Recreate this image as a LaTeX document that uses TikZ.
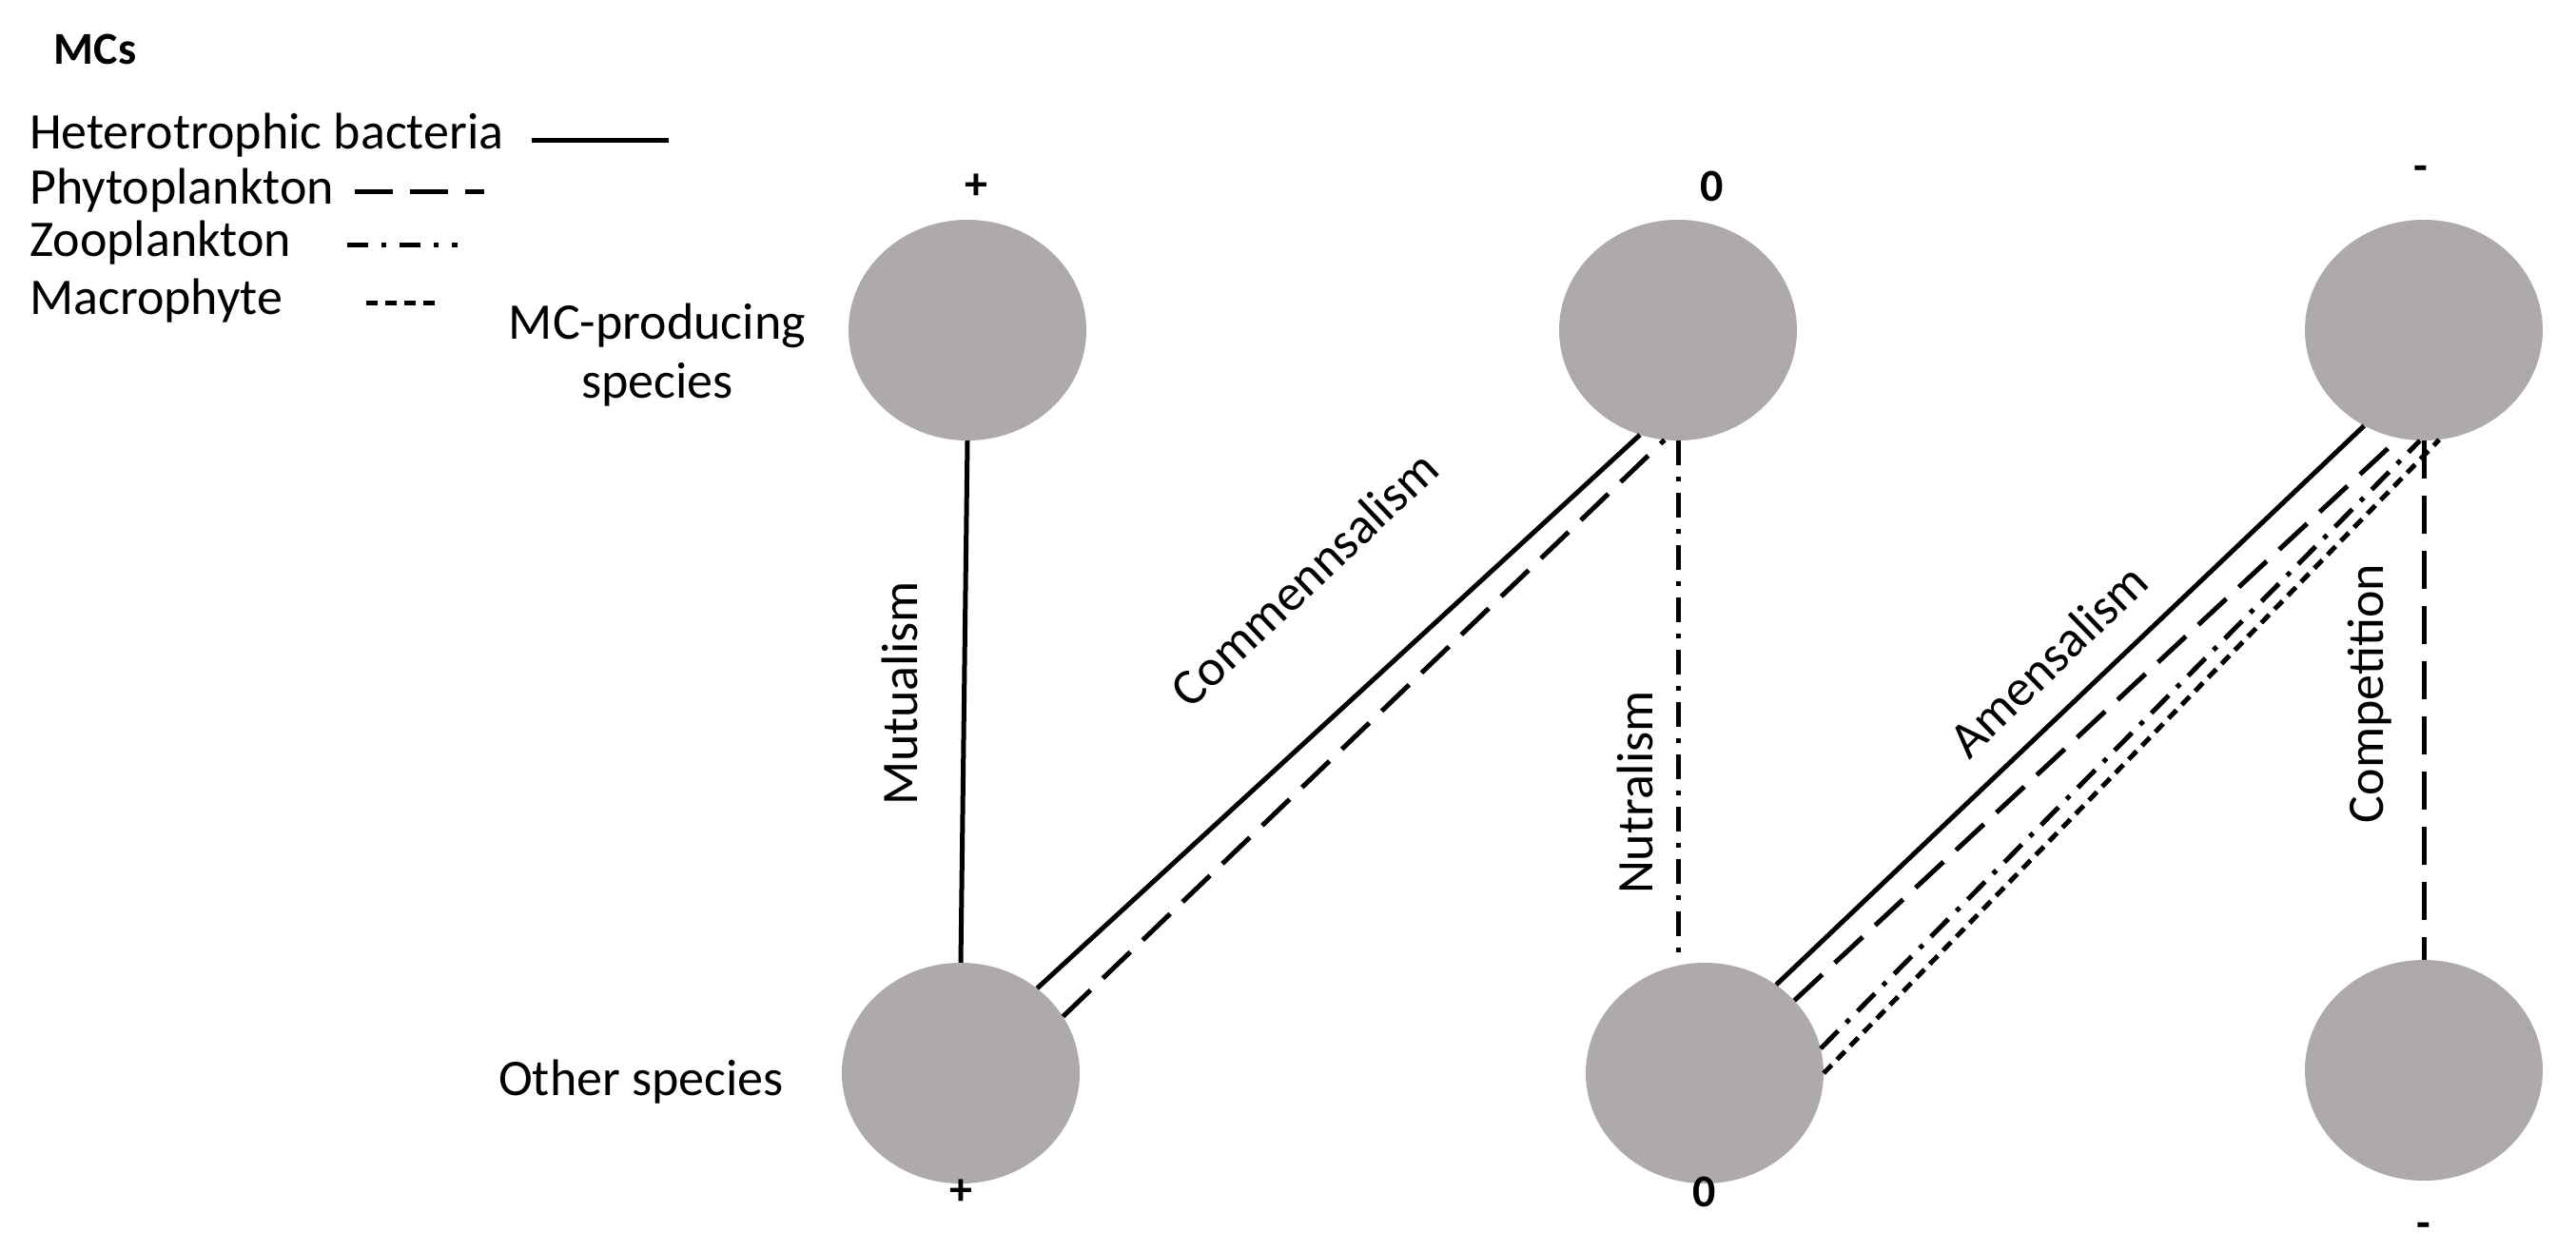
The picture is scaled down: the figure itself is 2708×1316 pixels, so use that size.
\documentclass[tikz,border=0pt]{standalone}
\usepackage{fontspec}
\setmainfont{Carlito}
\usetikzlibrary{shapes.geometric}
\definecolor{cg}{HTML}{ADAAA9}
\begin{document}
\begin{tikzpicture}[x=1pt,y=-1pt,
  circ/.style={ellipse,fill=cg,draw=none,minimum width=250pt,minimum height=232pt,inner sep=0pt},
  txt/.style={font=\fontsize{54}{62}\selectfont,inner sep=0pt},
  btxt/.style={font=\fontsize{48}{56}\selectfont\bfseries,inner sep=0pt},
  sol/.style={line width=5pt},
  phy/.style={line width=5pt,dash pattern=on 40pt off 18pt},
  zoo/.style={line width=5pt,dash pattern=on 26pt off 12pt on 5pt off 12pt},
  mac/.style={line width=5pt,dash pattern=on 12pt off 8pt}]
\useasboundingbox (0,0) rectangle (2708,1316);
% legend
\node[btxt] (mcs) at (100,52) {MCs};
\node[txt,anchor=west] (lh) at (31,142) {Heterotrophic bacteria};
\node[txt,anchor=west] (lp) at (31,200) {Phytoplankton};
\node[txt,anchor=west] (lz) at (31,255) {Zooplankton};
\node[txt,anchor=west] (lm) at (31,316) {Macrophyte};
\coordinate (h1) at (559,148); \coordinate (h2) at (703,148);
\coordinate (p1) at (373,202); \coordinate (p2) at (509,202);
\coordinate (z1) at (365,257); \coordinate (z2) at (481,257);
\coordinate (m1) at (385,318); \coordinate (m2) at (460,318);
\draw[sol] (h1)--(h2);
\draw[phy] (p1)--(p2);
\draw[line width=5pt,dash pattern=on 22pt off 14pt on 5pt off 14pt] (z1)--(z2);
\draw[mac] (m1)--(m2);
% circles
\node[circ] (t1) at (1017,347) {};
\node[circ] (t2) at (1764,347) {};
\node[circ] (t3) at (2548,347) {};
\node[circ] (b1) at (1010,1128) {};
\node[circ] (b2) at (1792,1128) {};
\node[circ] (b3) at (2548,1125) {};
% signs
\node[btxt] (s1) at (1026,196) {+};
\node[btxt] (s2) at (1800,196) {0};
\node[btxt] (s3) at (2545,182) {-};
\node[btxt] (s4) at (1010,1253) {+};
\node[btxt] (s5) at (1792,1253) {0};
\node[btxt] (s6) at (2548,1293) {-};
\node[txt,align=center] (mcp) at (691,373) {MC-producing\\species};
\node[txt] (oth) at (674,1137) {Other species};
% connectors
\draw[sol] (t1.south) -- (b1.north);
\draw[sol] (b1.48) -- (t2.250);
\draw[phy] (b1.29) -- (t2.263);
\draw[zoo] (t2.south) -- (t2.south |- b2.north);
\draw[sol] (b2.51) -- (t3.238);
\draw[phy] (b2.39) -- (t3.257);
\draw[zoo] (b2.12) -- (t3.268);
\draw[mac] (b2.0) -- (t3.278);
\draw[phy] (t3.south) -- (b3.north);
% labels
\node[txt,rotate=90] (lmu) at (946,729) {Mutualism};
\node[txt,rotate=43.4] (lco) at (1371,608) {Commennsalism};
\node[txt,rotate=90] (lnu) at (1719,833) {Nutralism};
\node[txt,rotate=44] (lam) at (2153,694) {Amensalism};
\node[txt,rotate=90] (lcp) at (2491,729) {Competition};
\end{tikzpicture}
\end{document}
